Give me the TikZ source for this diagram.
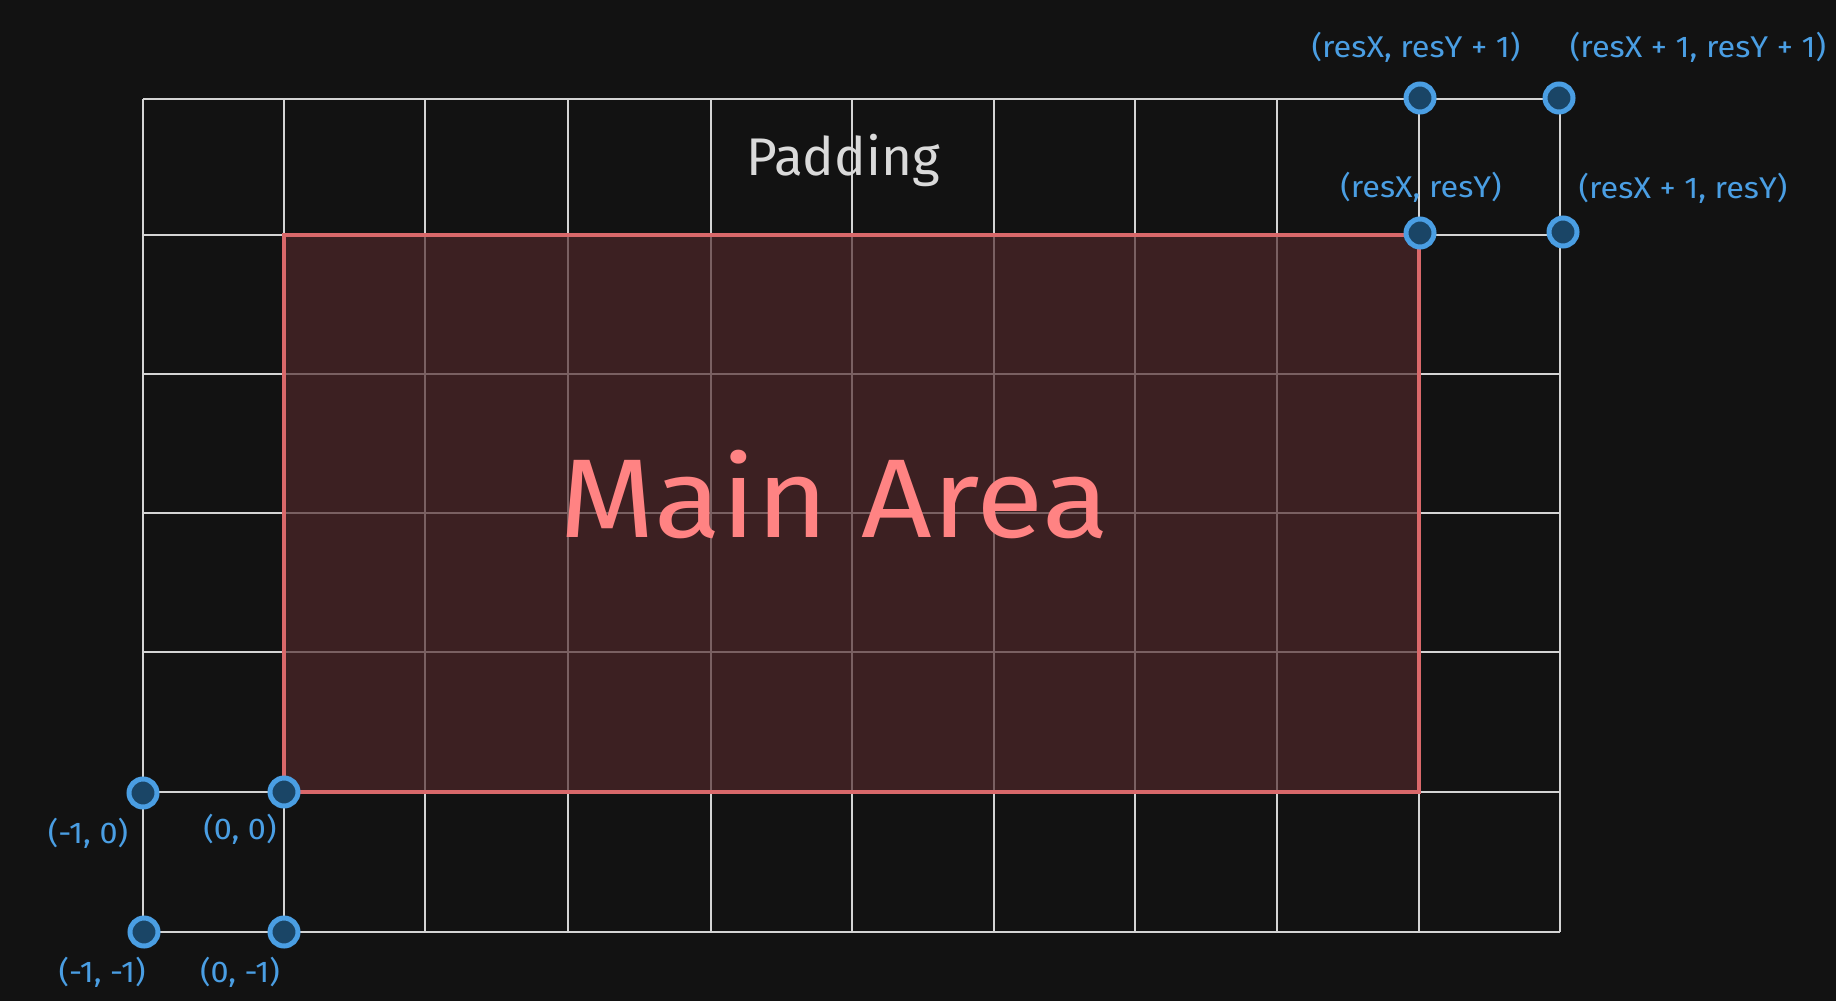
\documentclass[tikz,border=0pt]{standalone}
\usepackage{fontspec}
\setmainfont{Fira Sans}
\definecolor{bg}{HTML}{121212}
\definecolor{gridc}{HTML}{D4D4D4}
\definecolor{innergrid}{HTML}{7A6062}
\definecolor{areafill}{HTML}{3C2022}
\definecolor{areaedge}{HTML}{D9686A}
\definecolor{areatext}{HTML}{FF8383}
\definecolor{ptedge}{HTML}{4A9EE3}
\definecolor{ptfill}{HTML}{1A4566}
\definecolor{padtext}{HTML}{DADADA}
\tikzset{
  gridline/.style={draw=gridc, line width=2pt},
  innerline/.style={draw=innergrid, line width=2pt},
  pt/.style={circle, draw=ptedge, fill=ptfill, line width=5pt, minimum size=28pt, inner sep=0pt},
  ptlabel/.style={text=ptedge, font=\fontsize{30}{34}\selectfont, inner sep=0pt},
}
\newcommand{\wide}[1]{\scalebox{1.08}[1]{#1}}
\begin{document}
\begin{tikzpicture}[x=1pt,y=-1pt]
\fill[bg] (0,0) rectangle (1836,1001);
\useasboundingbox (0,0) rectangle (1836,1001);
% outer grid
\foreach \x in {143,284,425,568,711,852,994,1135,1277,1419,1560}
  \draw[gridline] (\x,99) -- (\x,932);
\foreach \y in {99,235,374,513,652,792,932}
  \draw[gridline] (143,\y) -- (1560,\y);
% main area
\fill[areafill] (284,235) rectangle (1419,792);
\foreach \x in {425,568,711,852,994,1135,1277}
  \draw[innerline] (\x,237) -- (\x,790);
\foreach \y in {374,513,652}
  \draw[innerline] (286,\y) -- (1417,\y);
\draw[areaedge, line width=3.5pt] (284,235) rectangle (1419,792);
% texts
\node[text=padtext, font=\fontsize{53}{60}\selectfont, inner sep=0pt] (pad) at (843,160) {Padding};
\node[text=areatext, font=\fontsize{112}{120}\selectfont, inner sep=0pt] (main) at (834,494) {\scalebox{1.1}[1]{Main Area}};
% points
\node[pt] (p00) at (284,792) {};
\node[pt] (pm10) at (143,793) {};
\node[pt] (pm1m1) at (144,932) {};
\node[pt] (p0m1) at (284,932) {};
\node[pt] (prr) at (1420,233) {};
\node[pt] (pr1r) at (1563,232) {};
\node[pt] (prr1) at (1420,98) {};
\node[pt] (pr1r1) at (1559,98) {};
% labels
\node[ptlabel] (lm10) at (88,833) {\wide{(-1, 0)}};
\node[ptlabel] (l00) at (240,829) {\wide{(0, 0)}};
\node[ptlabel] (lm1m1) at (102,972) {\wide{(-1, -1)}};
\node[ptlabel] (l0m1) at (240,972) {\wide{(0, -1)}};
\node[ptlabel] (lrr1) at (1416,47) {\wide{(resX, resY + 1)}};
\node[ptlabel] (lr1r1) at (1698,47) {\wide{(resX + 1, resY + 1)}};
\node[ptlabel] (lrr) at (1421,187) {\wide{(resX, resY)}};
\node[ptlabel] (lr1r) at (1683,188) {\wide{(resX + 1, resY)}};
\end{tikzpicture}
\end{document}
